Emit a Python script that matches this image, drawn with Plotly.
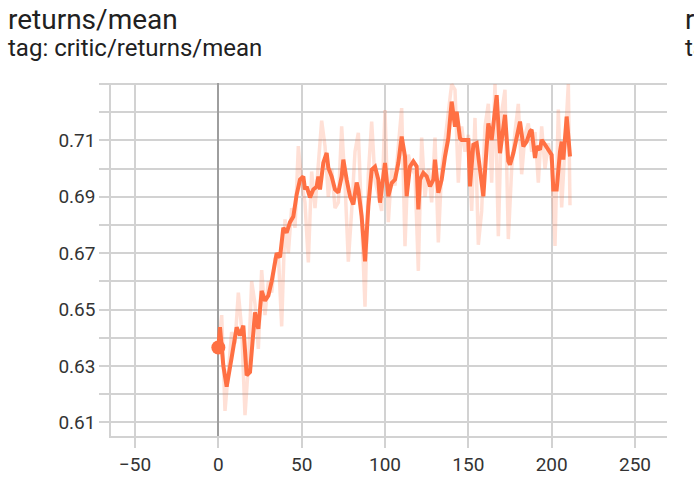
import plotly.graph_objects as go

# ---- data ----
raw_steps = [0, 2, 4, 6, 8, 10, 12, 14, 16, 18, 20, 22, 24, 26, 28, 30, 32, 34, 36, 38,
             40, 42, 44, 46, 48, 50, 52, 54, 56, 58, 60, 62, 64, 66, 68, 70, 72, 74, 76, 78,
             80, 82, 84, 86, 88, 90, 92, 94, 96, 98, 100, 102, 104, 106, 108, 110, 112, 114, 116, 118,
             120, 122, 124, 126, 128, 130, 132, 134, 136, 138, 140, 142, 144, 146, 148, 150, 152, 154, 156, 158,
             160, 162, 164, 166, 168, 170, 172, 174, 176, 178, 180, 182, 184, 186, 188, 190, 192, 194, 196, 198,
             200, 202, 204, 206, 208, 210, 211]
raw_values = [0.6365, 0.6480, 0.6140, 0.6300, 0.6420, 0.6380, 0.6560, 0.6430, 0.6125, 0.6300,
              0.6600, 0.6520, 0.6360, 0.6640, 0.6480, 0.6600, 0.6560, 0.6680, 0.6700, 0.6440,
              0.6820, 0.6700, 0.6860, 0.6790, 0.7080, 0.6950, 0.6880, 0.6667, 0.6990, 0.6860,
              0.7000, 0.7170, 0.7080, 0.6900, 0.7000, 0.6860, 0.6880, 0.7150, 0.6950, 0.6670,
              0.6850, 0.7060, 0.7127, 0.6800, 0.6510, 0.6980, 0.7167, 0.6960, 0.6900, 0.6850,
              0.7208, 0.6810, 0.7000, 0.6940, 0.7080, 0.7215, 0.6725, 0.7050, 0.7000, 0.6980,
              0.6637, 0.7110, 0.6900, 0.7000, 0.6880, 0.7110, 0.6738, 0.7000, 0.7100, 0.7200,
              0.7300, 0.7280, 0.6950, 0.7150, 0.7060, 0.7120, 0.6850, 0.7180, 0.6730, 0.6850,
              0.7150, 0.7230, 0.6950, 0.7300, 0.6760, 0.7200, 0.7280, 0.6750, 0.7000, 0.7130,
              0.7230, 0.6980, 0.7120, 0.7160, 0.7060, 0.7130, 0.6950, 0.7150, 0.7000, 0.7090,
              0.7020, 0.6726, 0.7210, 0.6862, 0.7100, 0.7300, 0.6870]

smooth_steps = [0, 1, 3, 5, 8, 11, 13, 15, 17, 19, 22, 24, 26, 28, 30, 32, 35, 37, 39, 41,
                43, 45, 47, 49, 51, 52, 53, 55, 57, 59, 60, 61, 63, 65, 66, 68, 70, 72, 74, 75,
                77, 79, 81, 83, 84, 86, 88, 90, 92, 94, 96, 97, 100, 102, 104, 106, 108, 110, 112, 113,
                115, 117, 119, 120, 121, 123, 125, 127, 129, 130, 132, 134, 136, 138, 140, 142, 143, 145, 146, 148,
                150, 151, 153, 155, 157, 159, 161, 162, 164, 167, 169, 171, 172, 174, 175, 177, 179, 181, 183, 185,
                187, 188, 190, 191, 193, 194, 196, 198, 200, 201, 203, 205, 206, 207, 208, 209, 211]
smooth_values = [0.6365, 0.6437, 0.6300, 0.6226, 0.6330, 0.6437, 0.6408, 0.6443, 0.6266, 0.6278,
                 0.6490, 0.6431, 0.6566, 0.6531, 0.6549, 0.6600, 0.6700, 0.6685, 0.6790, 0.6773,
                 0.6810, 0.6830, 0.6908, 0.6961, 0.6972, 0.6926, 0.6936, 0.6898, 0.6926, 0.6936,
                 0.6972, 0.6926, 0.7021, 0.7056, 0.7003, 0.6972, 0.6926, 0.6915, 0.6972, 0.7032,
                 0.6961, 0.6901, 0.6873, 0.6951, 0.6926, 0.6830, 0.6671, 0.6866, 0.6996, 0.7007,
                 0.6961, 0.6879, 0.7020, 0.6902, 0.6949, 0.6961, 0.7020, 0.7114, 0.7043, 0.6902,
                 0.7008, 0.7026, 0.7008, 0.6855, 0.6961, 0.6985, 0.6973, 0.6937, 0.6961, 0.7032,
                 0.6914, 0.6961, 0.7043, 0.7108, 0.7238, 0.7149, 0.7202, 0.7108, 0.7102, 0.7102,
                 0.7102, 0.6937, 0.7085, 0.7091, 0.7008, 0.6902, 0.7079, 0.7161, 0.7102, 0.7261,
                 0.7055, 0.7138, 0.7191, 0.7026, 0.7014, 0.7055, 0.7108, 0.7167, 0.7079, 0.7096,
                 0.7132, 0.7138, 0.7038, 0.7079, 0.7067, 0.7102, 0.7085, 0.7067, 0.7049, 0.6926,
                 0.6926, 0.7061, 0.7096, 0.7032, 0.7132, 0.7185, 0.7043]

marker_step = [0]
marker_value = [0.6365]

x_tickvals = [-50, 0, 50, 100, 150, 200, 250]
y_tickvals = [0.61, 0.62, 0.63, 0.64, 0.65, 0.66, 0.67, 0.68, 0.69, 0.70, 0.71, 0.72, 0.73]
y_ticktext = ["0.61", "", "0.63", "", "0.65", "", "0.67", "", "0.69", "", "0.71", "", ""]

title_text = "returns/mean"
subtitle_text = "tag: critic/returns/mean"
next_title_text = "rewards/mean"
next_subtitle_text = "tag: critic/rewards/mean"

ORANGE = "#ff7043"
GRID = "#d2d2d2"
FONT = "Roboto"

fig = go.Figure()
fig.add_trace(go.Scatter(x=raw_steps, y=raw_values, mode="lines",
                         line=dict(color="rgba(255,112,67,0.22)", width=3.5),
                         hoverinfo="skip", showlegend=False))
fig.add_trace(go.Scatter(x=smooth_steps, y=smooth_values, mode="lines",
                         line=dict(color=ORANGE, width=4),
                         showlegend=False))
fig.add_trace(go.Scatter(x=marker_step, y=marker_value, mode="markers",
                         marker=dict(color=ORANGE, size=14),
                         showlegend=False, cliponaxis=False))

fig.update_layout(
    width=694, height=494,
    margin=dict(l=111, r=27, t=83, b=58),
    paper_bgcolor="white", plot_bgcolor="white",
    font=dict(family=FONT, color="#212121"),
    showlegend=False,
)
fig.update_xaxes(
    range=[-64.4, 269.2], tickvals=x_tickvals,
    showgrid=True, gridcolor=GRID, gridwidth=1.5,
    zeroline=True, zerolinecolor="#9e9e9e", zerolinewidth=2,
    showline=True, linecolor=GRID, linewidth=1.5,
    ticks="outside", ticklen=10, tickcolor=GRID, tickwidth=1.5,
    tickfont=dict(family=FONT, size=19, color="#333333"),
)
fig.update_yaxes(
    range=[0.6051, 0.7304], tickvals=y_tickvals, ticktext=y_ticktext,
    showgrid=True, gridcolor=GRID, gridwidth=1.5,
    zeroline=False,
    showline=True, linecolor=GRID, linewidth=1.5,
    ticks="outside", ticklen=10, tickcolor=GRID, tickwidth=1.5,
    tickfont=dict(family=FONT, size=19, color="#333333"),
)

annos = [
    dict(text=title_text, x=-0.1897, y=1.1810, size=28),
    dict(text=subtitle_text, x=-0.1897, y=1.0990, size=24),
    dict(text=next_title_text, x=1.0288, y=1.1810, size=28),
    dict(text=next_subtitle_text, x=1.0288, y=1.0990, size=24),
]
for a in annos:
    fig.add_annotation(text=a["text"], xref="paper", yref="paper", x=a["x"], y=a["y"],
                       xanchor="left", yanchor="middle", showarrow=False,
                       font=dict(family=FONT, size=a["size"], color="#212121"))

fig.write_html("out.html", config={"displayModeBar": False},
               post_script="document.body.style.margin='0';")
